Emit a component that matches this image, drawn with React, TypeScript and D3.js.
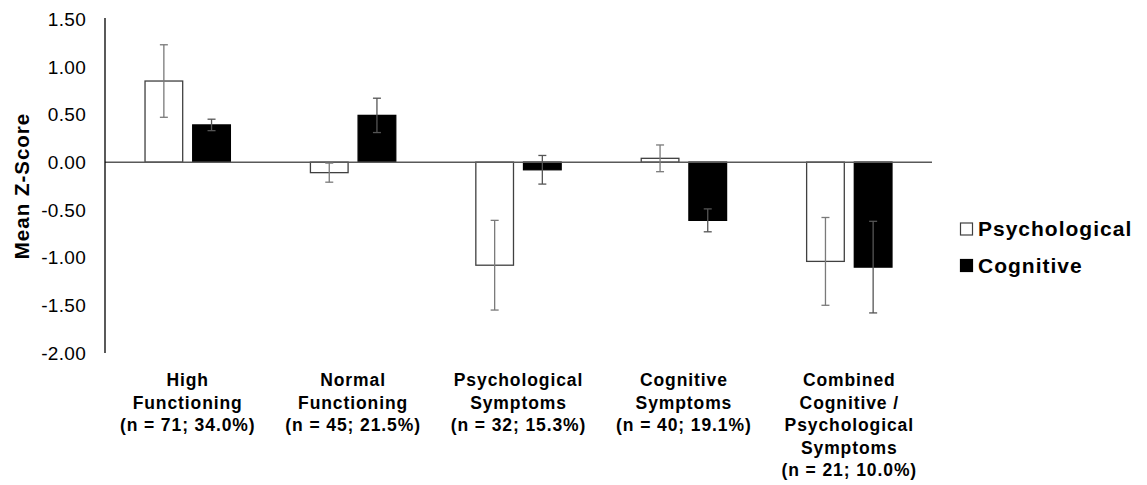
import React from "react";
import * as d3 from "d3";

// Profile groups (x-axis categories), one label line per entry
const categories = [
  "High Functioning",
  "Normal Functioning",
  "Psychological Symptoms",
  "Cognitive Symptoms",
  "Combined",
];
const categoryLines = [
  ["High", "Functioning", "(n = 71; 34.0%)"],
  ["Normal", "Functioning", "(n = 45; 21.5%)"],
  ["Psychological", "Symptoms", "(n = 32; 15.3%)"],
  ["Cognitive", "Symptoms", "(n = 40; 19.1%)"],
  ["Combined", "Cognitive /", "Psychological", "Symptoms", "(n = 21; 10.0%)"],
];

const seriesNames = ["Psychological", "Cognitive"];

// Mean z-scores and error-bar half widths per group
const psychological = [0.85, -0.11, -1.08, 0.04, -1.04];
const psychologicalErr = [0.38, 0.1, 0.47, 0.14, 0.46];
const cognitive = [0.39, 0.49, -0.08, -0.61, -1.1];
const cognitiveErr = [0.06, 0.18, 0.15, 0.12, 0.48];

const yTicks = [1.5, 1.0, 0.5, 0.0, -0.5, -1.0, -1.5, -2.0];

const W = 1147;
const H = 485;
const FONT = "'Liberation Sans', Arial, Helvetica, sans-serif";

export default function App() {
  const plotLeft = 105;
  const plotRight = 932;
  const plotTop = 19;
  const plotBottom = 353;

  const y = d3.scaleLinear().domain([-2, 1.5]).range([plotBottom, plotTop]);
  const x0 = d3.scaleBand<string>().domain(categories).range([plotLeft, plotRight]).padding(0);
  const bw = x0.bandwidth();
  const x1 = d3
    .scaleBand<string>()
    .domain(seriesNames)
    .range([bw * 0.242, bw * 0.758])
    .paddingInner(0.21);

  const seriesData = [
    { name: "Psychological", values: psychological, errs: psychologicalErr, fill: "#ffffff", stroke: "#404040" },
    { name: "Cognitive", values: cognitive, errs: cognitiveErr, fill: "#000000", stroke: "#000000" },
  ];

  // plain hyphen for negatives, two decimals
  const fmt = (v: number) => d3.format(".2f")(v).replace("\u2212", "-");
  const y0 = y(0);
  const cap = 4;

  return (
    <svg
      width={W}
      height={H}
      viewBox={`0 0 ${W} ${H}`}
      style={{ position: "absolute", left: 0, top: 0, background: "#fff" }}
      fontFamily={FONT}
    >
      {/* y tick labels */}
      {yTicks.map((t) => (
        <text
          key={t}
          x={86}
          y={y(t)}
          dy="0.36em"
          textAnchor="end"
          fontSize={19}
          letterSpacing={0.3}
          fill="#000"
        >
          {fmt(t)}
        </text>
      ))}

      {/* y axis title */}
      <text
        transform={`translate(29, ${(plotTop + plotBottom) / 2}) rotate(-90)`}
        textAnchor="middle"
        fontSize={20.5}
        fontWeight="bold"
        letterSpacing={1}
        fill="#000"
      >
        Mean Z-Score
      </text>

      {/* bars */}
      {seriesData.map((s) =>
        categories.map((c, i) => {
          const v = s.values[i];
          const bx = (x0(c) ?? 0) + (x1(s.name) ?? 0);
          const top = Math.min(y(v), y0);
          const h = Math.abs(y(v) - y0);
          return (
            <rect
              key={`${s.name}-${c}`}
              x={bx}
              y={top}
              width={x1.bandwidth()}
              height={h}
              fill={s.fill}
              stroke={s.stroke}
              strokeWidth={1.3}
            />
          );
        })
      )}

      {/* zero line and y axis */}
      <line x1={plotLeft} x2={plotRight} y1={y0} y2={y0} stroke="#595959" strokeWidth={1.5} />
      <line x1={plotLeft} x2={plotLeft} y1={plotTop - 1} y2={plotBottom} stroke="#000" strokeWidth={1.3} />

      {/* error bars */}
      {seriesData.map((s) =>
        categories.map((c, i) => {
          const v = s.values[i];
          const e = s.errs[i];
          const cx = (x0(c) ?? 0) + (x1(s.name) ?? 0) + x1.bandwidth() / 2;
          const yHi = y(v + e);
          const yLo = y(v - e);
          const col = s.name === "Cognitive" ? "#555555" : "#7a7a7a";
          return (
            <g key={`err-${s.name}-${c}`} stroke={col} strokeWidth={1.3}>
              <line x1={cx} x2={cx} y1={yHi} y2={yLo} />
              <line x1={cx - cap} x2={cx + cap} y1={yHi} y2={yHi} />
              <line x1={cx - cap} x2={cx + cap} y1={yLo} y2={yLo} />
            </g>
          );
        })
      )}

      {/* category labels */}
      {categories.map((c, i) => {
        const cx = (x0(c) ?? 0) + bw / 2;
        return (
          <text
            key={`lab-${c}`}
            x={cx}
            y={386}
            textAnchor="middle"
            fontSize={17.5}
            fontWeight="bold"
            letterSpacing={0.9}
            fill="#000"
          >
            {categoryLines[i].map((ln, j) => (
              <tspan key={j} x={cx} y={386 + j * 22.5}>
                {ln}
              </tspan>
            ))}
          </text>
        );
      })}

      {/* legend */}
      {seriesData.map((s, i) => {
        const ly = 236 + i * 36.5;
        return (
          <g key={`leg-${s.name}`}>
            <rect
              x={960.5}
              y={ly - 13}
              width={12}
              height={12}
              fill={s.fill}
              stroke={s.name === "Psychological" ? "#404040" : "#000"}
              strokeWidth={1.2}
            />
            <text x={978} y={ly} fontSize={21} fontWeight="bold" letterSpacing={1} fill="#000">
              {s.name}
            </text>
          </g>
        );
      })}
    </svg>
  );
}
